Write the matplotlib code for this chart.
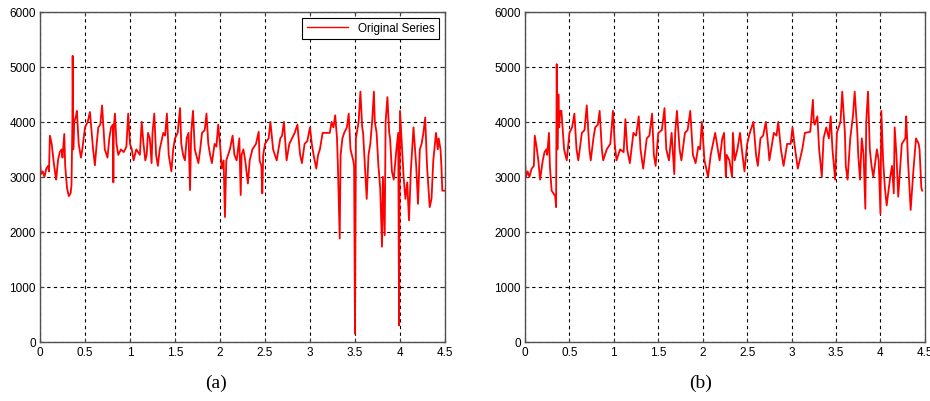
import matplotlib
matplotlib.use("Agg")
import matplotlib.pyplot as plt

# Panel (a): original series
xa = [0.00, 0.01, 0.03, 0.05, 0.07, 0.09, 0.10, 0.11, 0.13, 0.15, 0.17, 0.18, 0.20, 0.22, 0.24,
      0.25, 0.27, 0.28, 0.30, 0.32, 0.34, 0.35, 0.36, 0.363, 0.37, 0.38, 0.40, 0.41, 0.43, 0.455,
      0.47, 0.50, 0.53, 0.555, 0.59, 0.61, 0.63, 0.648, 0.67, 0.69, 0.72, 0.75, 0.77, 0.79, 0.81,
      0.815, 0.82, 0.833, 0.85, 0.87, 0.90, 0.93, 0.96, 0.98, 1.00, 1.02, 1.04, 1.07, 1.09, 1.11,
      1.13, 1.15, 1.17, 1.185, 1.20, 1.22, 1.24, 1.25, 1.27, 1.29, 1.31, 1.33, 1.37, 1.39, 1.41,
      1.43, 1.46, 1.48, 1.50, 1.53, 1.556, 1.57, 1.59, 1.61, 1.63, 1.65, 1.667, 1.68, 1.70, 1.72,
      1.76, 1.78, 1.80, 1.83, 1.85, 1.87, 1.89, 1.91, 1.94, 1.96, 1.98, 2.00, 2.02, 2.04, 2.055,
      2.07, 2.09, 2.11, 2.14, 2.16, 2.185, 2.215, 2.23, 2.24, 2.26, 2.28, 2.31, 2.33, 2.36, 2.40,
      2.43, 2.44, 2.46, 2.47, 2.48, 2.50, 2.54, 2.56, 2.59, 2.63, 2.67, 2.69, 2.71, 2.74, 2.77,
      2.80, 2.83, 2.86, 2.89, 2.91, 2.94, 2.97, 3.00, 3.02, 3.04, 3.07, 3.09, 3.11, 3.14, 3.22,
      3.24, 3.26, 3.28, 3.30, 3.31, 3.33, 3.34, 3.36, 3.38, 3.41, 3.43, 3.45, 3.48, 3.49, 3.50,
      3.51, 3.54, 3.56, 3.58, 3.59, 3.61, 3.63, 3.65, 3.67, 3.69, 3.71, 3.72, 3.74, 3.76, 3.78,
      3.80, 3.81, 3.83, 3.84, 3.86, 3.88, 3.89, 3.91, 3.93, 3.96, 3.98, 3.99, 4.00, 4.02, 4.04,
      4.06, 4.08, 4.10, 4.12, 4.15, 4.18, 4.20, 4.22, 4.24, 4.26, 4.28, 4.30, 4.33, 4.35, 4.37,
      4.40, 4.42, 4.43, 4.45, 4.46, 4.47, 4.50]
ya = [3300, 3050, 3100, 3000, 3150, 3200, 3100, 3750, 3600, 3300, 3050, 2950, 3300, 3450, 3500,
      3350, 3780, 3200, 2800, 2650, 2700, 2850, 4000, 5200, 3500, 4000, 4100, 4200, 3600, 3350,
      3500, 3900, 4000, 4180, 3500, 3210, 3600, 3900, 3950, 4300, 3500, 3350, 3700, 3900, 3950,
      2900, 3900, 4150, 3600, 3400, 3500, 3450, 3550, 4150, 3600, 3500, 3300, 3500, 3450, 3400,
      4000, 3600, 3300, 3400, 3800, 3700, 3250, 3800, 4150, 3400, 3200, 3500, 3800, 3750, 4150,
      3400, 3100, 3500, 3700, 3800, 4250, 3600, 3400, 3300, 3700, 3800, 2760, 3800, 4200, 3500,
      3250, 3500, 3800, 3850, 4150, 3600, 3400, 3250, 3600, 3550, 3950, 3600, 3150, 3300, 2270,
      3300, 3400, 3500, 3750, 3400, 3300, 3700, 2670, 3400, 3500, 3300, 2880, 3300, 3500, 3600,
      3820, 3300, 3200, 2700, 3400, 3600, 3700, 4000, 3500, 3300, 3700, 3750, 4000, 3300, 3600,
      3700, 3800, 3950, 3400, 3250, 3600, 3650, 3900, 3600, 3400, 3150, 3400, 3500, 3800, 3800,
      4000, 3900, 4120, 3700, 3200, 1880, 3400, 3700, 3800, 3900, 4150, 3500, 3300, 3200, 150,
      3700, 4000, 4550, 3900, 3800, 3200, 2600, 3400, 3600, 4000, 4550, 4000, 3800, 3200, 2800,
      1730, 3000, 1940, 4000, 4450, 3800, 3700, 3100, 2950, 3500, 3800, 300, 4200, 3600, 3000,
      2600, 2900, 2210, 3100, 3900, 3200, 2510, 3500, 3600, 3800, 4080, 3200, 2450, 2600, 3300,
      3800, 3500, 3700, 3500, 3200, 2750, 2750]

# Panel (b)
xb = [0.00, 0.01, 0.03, 0.05, 0.075, 0.10, 0.11, 0.13, 0.15, 0.17, 0.20, 0.22, 0.24, 0.25, 0.27,
      0.28, 0.30, 0.32, 0.34, 0.35, 0.357, 0.365, 0.376, 0.385, 0.395, 0.41, 0.44, 0.47, 0.50, 0.53,
      0.556, 0.58, 0.60, 0.64, 0.67, 0.695, 0.725, 0.74, 0.77, 0.79, 0.82, 0.84, 0.865, 0.88, 0.92,
      0.96, 0.99, 1.01, 1.03, 1.07, 1.11, 1.13, 1.15, 1.18, 1.22, 1.25, 1.28, 1.30, 1.33, 1.37,
      1.40, 1.43, 1.45, 1.47, 1.50, 1.54, 1.57, 1.59, 1.62, 1.65, 1.68, 1.69, 1.71, 1.74, 1.76,
      1.80, 1.83, 1.86, 1.89, 1.92, 1.95, 1.97, 1.99, 2.02, 2.06, 2.09, 2.14, 2.17, 2.19, 2.22,
      2.24, 2.26, 2.27, 2.30, 2.33, 2.34, 2.36, 2.39, 2.42, 2.44, 2.47, 2.50, 2.53, 2.57, 2.60,
      2.62, 2.65, 2.68, 2.71, 2.74, 2.75, 2.80, 2.83, 2.85, 2.88, 2.91, 2.95, 2.99, 3.01, 3.04,
      3.07, 3.12, 3.15, 3.21, 3.24, 3.25, 3.26, 3.29, 3.31, 3.34, 3.36, 3.39, 3.42, 3.44, 3.46,
      3.49, 3.51, 3.55, 3.57, 3.60, 3.61, 3.63, 3.66, 3.69, 3.71, 3.74, 3.75, 3.77, 3.79, 3.81,
      3.83, 3.84, 3.86, 3.88, 3.90, 3.92, 3.96, 3.98, 4.00, 4.01, 4.03, 4.05, 4.07, 4.11, 4.13,
      4.15, 4.16, 4.18, 4.20, 4.24, 4.28, 4.29, 4.31, 4.34, 4.37, 4.40, 4.43, 4.44, 4.46, 4.47]
yb = [3300, 3000, 3100, 3000, 3150, 3200, 3750, 3550, 3300, 2950, 3300, 3450, 3500, 3400, 3800,
      3200, 2750, 2700, 2650, 2450, 5050, 3500, 4500, 3900, 4200, 4200, 3500, 3300, 3800, 3900,
      4150, 3500, 3300, 3800, 3850, 4300, 3500, 3300, 3700, 3900, 3950, 4200, 3500, 3300, 3500,
      3600, 4200, 3600, 3300, 3500, 3450, 4050, 3500, 3250, 3800, 3750, 4100, 3500, 3150, 3700,
      3750, 4150, 3400, 3200, 3800, 3850, 4250, 3500, 3300, 3800, 3050, 3800, 4200, 3500, 3300,
      3800, 3850, 4200, 3400, 3250, 3550, 3500, 4000, 3300, 3000, 3400, 3800, 3500, 3300, 3700,
      3800, 3000, 3400, 3300, 3000, 3800, 3300, 3500, 3800, 3500, 3100, 3600, 3800, 4000, 3400,
      3200, 3700, 3750, 4000, 3500, 3300, 3800, 3750, 4000, 3500, 3200, 3600, 3600, 3900, 3500,
      3150, 3500, 3800, 3820, 4400, 4000, 3950, 4100, 3500, 3000, 3700, 3900, 3700, 4100, 3500,
      2950, 3800, 4000, 4550, 3800, 3200, 2950, 3700, 4100, 4550, 3800, 3400, 2950, 3700, 3400,
      2420, 4000, 4550, 3500, 3200, 3000, 3500, 3300, 2330, 4200, 3300, 2800, 2480, 3000, 3200,
      2700, 3900, 3400, 2640, 3600, 3700, 4100, 3300, 2400, 3100, 3700, 3600, 3500, 2800, 2750]

xticks = [0, 0.5, 1, 1.5, 2, 2.5, 3, 3.5, 4, 4.5]
xtick_labels = ["0", "0.5", "1", "1.5", "2", "2.5", "3", "3.5", "4", "4.5"]
yticks = [0, 1000, 2000, 3000, 4000, 5000, 6000]
panel_labels = ["(a)", "(b)"]

plt.rcParams["font.family"] = ["Liberation Sans Narrow", "Liberation Sans", "DejaVu Sans"]

fig = plt.figure(figsize=(9.3, 4.02), dpi=100)
ax_a = fig.add_axes([0.043, 0.147, 0.4355, 0.821])
ax_b = fig.add_axes([0.5645, 0.147, 0.430, 0.821])

for ax, x, y in ((ax_a, xa, ya), (ax_b, xb, yb)):
    ax.plot(x, y, color="red", lw=1.3)
    ax.set_xlim(0, 4.5)
    ax.set_ylim(0, 6000)
    ax.set_xticks(xticks)
    ax.set_xticklabels(xtick_labels)
    ax.set_yticks(yticks)
    ax.grid(True, color="black", ls=(0, (3, 3)), lw=0.8)
    ax.tick_params(direction="in", length=3, labelsize=8.5, top=True, right=True,
                   color="#404040", pad=3)
    for s in ax.spines.values():
        s.set_color("#505050")
        s.set_linewidth(1.0)

leg = ax_a.legend([ax_a.lines[0]], ["Original Series"], loc="upper right",
                  fontsize=8.5, fancybox=False, framealpha=1, edgecolor="black",
                  borderpad=0.4, handlelength=3.5, borderaxespad=0.5)
leg.get_frame().set_linewidth(0.8)
leg.get_lines()[0].set_linewidth(1.0)

for xpos, lab in zip((0.232, 0.753), panel_labels):
    fig.text(xpos, 0.047, lab, ha="center", va="center", fontsize=14,
             family=["Liberation Serif", "DejaVu Serif"])

fig.savefig("out.png", dpi=100)
